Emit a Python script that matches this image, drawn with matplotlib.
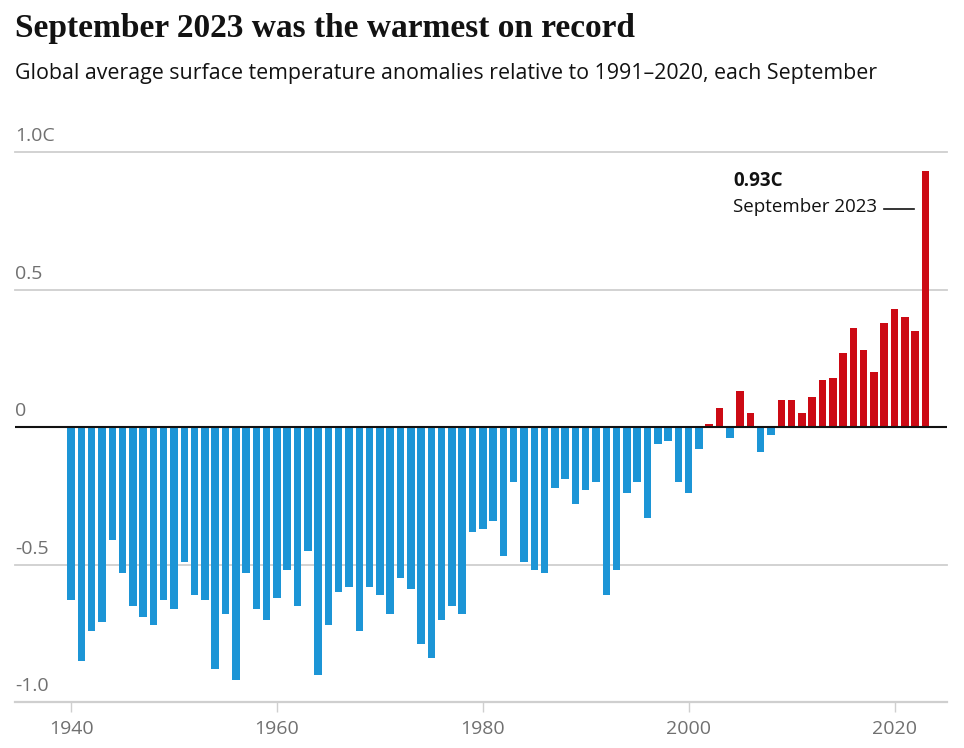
import matplotlib
matplotlib.use("Agg")
import matplotlib.pyplot as plt
import matplotlib.transforms as mtransforms
import numpy as np

# September anomalies vs 1991-2020 (C)
years = list(range(1940, 2024))
anomalies = [
    -0.63, -0.85, -0.74, -0.71, -0.41, -0.53, -0.65, -0.69, -0.72, -0.63,  # 1940s
    -0.66, -0.49, -0.61, -0.63, -0.88, -0.68, -0.92, -0.53, -0.66, -0.70,  # 1950s
    -0.62, -0.52, -0.65, -0.45, -0.90, -0.72, -0.60, -0.58, -0.74, -0.58,  # 1960s
    -0.61, -0.68, -0.55, -0.59, -0.79, -0.84, -0.70, -0.65, -0.68, -0.38,  # 1970s
    -0.37, -0.34, -0.47, -0.20, -0.49, -0.52, -0.53, -0.22, -0.19, -0.28,  # 1980s
    -0.23, -0.20, -0.61, -0.52, -0.24, -0.20, -0.33, -0.06, -0.05, -0.20,  # 1990s
    -0.24, -0.08, 0.01, 0.07, -0.04, 0.13, 0.05, -0.09, -0.03, 0.10,       # 2000s
    0.10, 0.05, 0.11, 0.17, 0.18, 0.27, 0.36, 0.28, 0.20, 0.38,            # 2010s
    0.43, 0.40, 0.35, 0.93,                                                # 2020s
]
ytick_vals = [1.0, 0.5, 0, -0.5, -1.0]
ytick_labels = ["1.0C", "0.5", "0", "-0.5", "-1.0"]
xtick_vals = [1940, 1960, 1980, 2000, 2020]

BLUE = "#1c95d6"
RED = "#cc0a14"
GREY = "#707070"
GRID = "#cfcfcf"

W, H = 964, 748
fig = plt.figure(figsize=(W / 100, H / 100), dpi=100)
fig.patch.set_facecolor("white")

# axes box in pixels: left 15, right 947, y=+1.0 at 152px, y=-1.0 at 702px
ax = fig.add_axes([15 / W, (H - 702) / H, (947 - 15) / W, (702 - 152) / H])
ax.set_xlim(1934.55, 2025.1)
ax.set_ylim(-1.0, 1.0)
for s in ax.spines.values():
    s.set_visible(False)
ax.set_yticks([])

cols = [RED if v > 0 else BLUE for v in anomalies]

for v in [1.0, 0.5, -0.5]:
    ax.axhline(v, color=GRID, lw=1.3, zorder=0, clip_on=False)
ax.axhline(-1.0, color=GRID, lw=1.6, zorder=0, clip_on=False)

ax.bar(years, anomalies, width=0.73, color=cols, zorder=2)
ax.axhline(0, color="#121212", lw=1.5, zorder=3)

# y labels sit just above their gridlines
trans = mtransforms.blended_transform_factory(fig.transFigure, ax.transData)
off = mtransforms.offset_copy(trans, fig=fig, x=0, y=5, units="points")
for v, lab in zip(ytick_vals, ytick_labels):
    ax.text(15 / W, v, lab, transform=off, ha="left", va="bottom",
            fontsize=14, color=GREY, family="Open Sans")

ax.set_xticks(xtick_vals)
ax.set_xticklabels([str(x) for x in xtick_vals])
ax.tick_params(axis="x", length=7, width=1, color=GRID, pad=6,
               labelsize=14, labelcolor=GREY)
for t in ax.get_xticklabels():
    t.set_family("Open Sans")

# annotation for 2023
ax.text(2004.35, 0.895, "0.93C", fontsize=13.5, fontweight="bold",
        color="#121212", family="Open Sans", va="center", ha="left")
ax.text(2004.35, 0.80, "September 2023", fontsize=13.5,
        color="#121212", family="Open Sans", va="center", ha="left")
ax.plot([2019.0, 2021.9], [0.792, 0.792], color="#121212", lw=1.2, zorder=4)

fig.text(15 / W, 1 - 29 / H, "September 2023 was the warmest on record",
         fontsize=24, fontweight="heavy", family="Liberation Serif",
         color="#121212", va="center", ha="left")
fig.text(15 / W, 1 - 73 / H,
         "Global average surface temperature anomalies relative to 1991\u20132020, each September",
         fontsize=15.4, family="Open Sans", color="#121212", va="center", ha="left")

fig.savefig("out.png", dpi=100, facecolor="white")
